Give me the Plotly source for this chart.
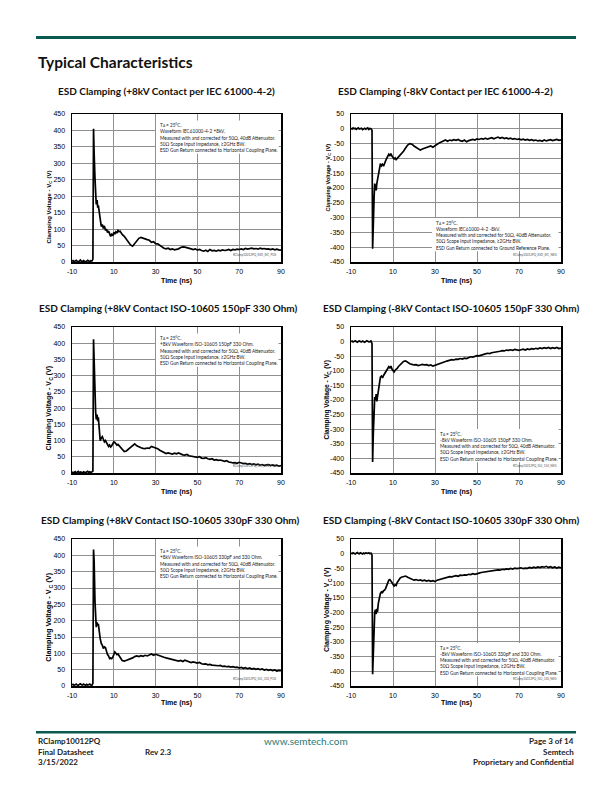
import plotly.graph_objects as go

W, H = 612, 792

# ---------------- data ----------------
T_PRE = [-10, -9.5, -9, -8.5, -8, -7.5, -7, -6.5, -6, -5.5, -5, -4.5, -4, -3.5, -3, -2.5, -2, -1.5, -1, -0.5]
T_EARLY = [0, 0.3, 0.6, 1.0, 1.3, 1.6, 2.0, 2.3, 2.6, 3.0, 3.5, 4.0, 4.5, 5.0, 5.5, 6.0, 6.5, 7.0, 7.5, 8.0,
           8.5, 9.0, 9.5, 10.0, 10.5, 11.0, 11.5, 12.0, 12.5, 13.0, 13.5]
T_TAIL = [14, 15, 16, 17, 18, 19, 20, 21, 22, 23, 24, 25, 26, 27, 28, 29, 30, 31, 32, 33, 34, 35, 36, 37, 38,
          39, 40, 41, 42, 43, 44, 45, 46, 47, 48, 49, 50, 51, 52, 53, 54, 55, 56, 57, 58, 59, 60, 61, 62, 63,
          64, 65, 66, 67, 68, 69, 70, 71, 72, 73, 74, 75, 76, 77, 78, 79, 80, 81, 82, 83, 84, 85, 86, 87, 88,
          89, 90]

# +8kV IEC 61000-4-2
V1_PRE = [2, 4, 1, 3, 5, 2, 0, 3, 6, 2, 1, 4, 3, 0, 2, 5, 3, 1, 4, 3]
V1_EARLY = [8, 405, 330, 255, 205, 175, 188, 165, 172, 150, 118, 108, 114, 102, 110, 96, 100, 90, 94, 82,
            78, 84, 80, 90, 86, 92, 88, 96, 92, 94, 88]
V1_TAIL = [84, 78, 70, 60, 52, 48, 56, 66, 72, 75, 72, 70, 68, 66, 60, 62, 56, 55, 50, 45, 42, 40, 42, 38, 40,
           37, 38, 40, 44, 46, 45, 44, 42, 40, 38, 40, 36, 38, 35, 33, 36, 32, 38, 34, 35, 33, 36, 34, 37, 35,
           36, 38, 35, 38, 37, 39, 38, 40, 38, 41, 39, 40, 42, 40, 41, 39, 42, 40, 41, 39, 40, 38, 40, 37, 39,
           37, 36]

# -8kV IEC 61000-4-2
V2_PRE = [2, -1, 3, 0, 2, -2, 1, 3, -1, 0, 2, -3, 1, 2, -1, 0, 3, -2, 1, 0]
V2_EARLY = [-5, -405, -300, -230, -185, -200, -208, -185, -170, -150, -128, -118, -125, -120, -126, -112, -108,
            -100, -92, -86, -90, -84, -92, -96, -102, -98, -104, -100, -96, -94, -88]
V2_TAIL = [-84, -76, -65, -55, -50, -52, -58, -62, -68, -72, -68, -65, -62, -60, -58, -62, -56, -52, -48, -44,
           -40, -38, -42, -38, -40, -37, -39, -36, -40, -42, -38, -44, -40, -38, -36, -38, -34, -36, -33, -35,
           -32, -35, -33, -30, -34, -31, -28, -32, -29, -33, -31, -34, -32, -35, -33, -36, -34, -37, -35, -38,
           -36, -39, -37, -40, -38, -41, -39, -42, -38, -41, -39, -37, -40, -38, -36, -39, -37]

# +8kV ISO-10605 150pF 330 Ohm
V3_PRE = [3, 1, 2, 4, 0, 2, 5, 1, 3, 2, 0, 4, 2, 1, 3, 5, 2, 4, 1, 3]
V3_EARLY = [6, 412, 330, 240, 190, 165, 180, 160, 172, 140, 100, 108, 112, 104, 96, 100, 92, 88, 82, 86,
            80, 84, 90, 96, 94, 90, 86, 88, 84, 80, 76]
V3_TAIL = [72, 66, 68, 74, 80, 86, 90, 84, 80, 78, 76, 75, 77, 76, 82, 80, 78, 75, 70, 66, 64, 60, 62, 60, 58,
           61, 59, 62, 58, 56, 55, 57, 53, 52, 50, 51, 48, 50, 46, 45, 47, 44, 42, 44, 40, 41, 39, 40, 37, 36,
           38, 34, 33, 31, 32, 30, 33, 31, 29, 30, 27, 29, 26, 28, 25, 27, 24, 26, 23, 25, 26, 23, 25, 22, 24,
           21, 23]

# -8kV ISO-10605 150pF 330 Ohm
V4_PRE = [0, 2, -1, 1, 3, 0, -2, 1, 2, 0, -1, 2, 1, -2, 0, 3, 1, -1, 0, 2]
V4_EARLY = [-6, -412, -320, -230, -190, -200, -180, -205, -190, -160, -130, -122, -118, -124, -116, -110, -104,
            -96, -88, -86, -90, -84, -94, -100, -104, -98, -96, -92, -86, -82, -78]
V4_TAIL = [-74, -68, -66, -72, -76, -78, -80, -79, -82, -80, -78, -80, -79, -82, -80, -84, -81, -78, -76, -73,
           -70, -68, -66, -64, -62, -63, -60, -61, -58, -60, -57, -58, -54, -52, -53, -50, -48, -49, -46, -45,
           -42, -40, -41, -38, -37, -35, -36, -33, -31, -32, -29, -30, -28, -30, -27, -29, -30, -28, -26, -29,
           -25, -27, -24, -26, -23, -25, -22, -24, -21, -23, -20, -24, -21, -23, -20, -24, -22]

# +8kV ISO-10605 330pF 330 Ohm
V5_PRE = [3, 5, 2, 4, 6, 3, 2, 5, 7, 4, 3, 6, 4, 2, 5, 3, 4, 6, 3, 2]
V5_EARLY = [8, 418, 380, 260, 200, 180, 195, 185, 190, 165, 145, 130, 125, 115, 120, 118, 102, 96, 92, 84,
            86, 84, 88, 98, 104, 100, 96, 98, 92, 86, 82]
V5_TAIL = [78, 76, 78, 80, 84, 86, 90, 92, 90, 93, 91, 94, 92, 95, 98, 94, 97, 95, 92, 90, 88, 86, 84, 82, 80,
           78, 77, 76, 78, 75, 79, 76, 74, 72, 74, 71, 70, 72, 68, 67, 68, 65, 66, 64, 63, 64, 62, 63, 60, 61,
           59, 60, 58, 59, 57, 58, 55, 57, 54, 56, 53, 55, 52, 54, 51, 53, 50, 52, 49, 51, 48, 50, 47, 49, 46,
           48, 47]

# -8kV ISO-10605 330pF 330 Ohm
V6_PRE = [2, 0, 3, 1, -1, 2, 4, 1, 0, 3, 1, -1, 2, 0, 3, 2, 1, 3, 0, 2]
V6_EARLY = [-4, -410, -330, -240, -200, -190, -205, -188, -198, -170, -145, -135, -130, -132, -126, -124, -118,
            -108, -96, -90, -88, -92, -98, -104, -110, -106, -108, -98, -92, -86, -82]
V6_TAIL = [-80, -78, -76, -80, -84, -88, -90, -88, -91, -89, -92, -90, -93, -91, -94, -92, -95, -90, -88, -86,
           -84, -82, -80, -78, -79, -76, -75, -77, -73, -74, -72, -73, -70, -71, -68, -70, -67, -66, -64, -63,
           -61, -60, -58, -59, -56, -57, -55, -56, -53, -54, -52, -53, -50, -52, -49, -51, -50, -48, -51, -49,
           -50, -47, -49, -46, -48, -45, -47, -44, -46, -43, -47, -44, -48, -45, -49, -46, -48]

X_TICKS = [-10, 10, 30, 50, 70, 90]
X_TICK_LABELS = ["-10", "10", "30", "50", "70", "90"]
Y_TICKS_POS = [0, 50, 100, 150, 200, 250, 300, 350, 400, 450]
Y_TICK_LABELS_POS = ["0", "50", "100", "150", "200", "250", "300", "350", "400", "450"]
Y_TICKS_NEG = [-450, -400, -350, -300, -250, -200, -150, -100, -50, 0, 50]
Y_TICK_LABELS_NEG = ["-450", "-400", "-350", "-300", "-250", "-200", "-150", "-100", "-50", "0", "50"]

TITLES = [
    "ESD Clamping (+8kV Contact per IEC 61000-4-2)",
    "ESD Clamping (-8kV Contact per IEC 61000-4-2)",
    "ESD Clamping (+8kV Contact ISO-10605 150pF 330 Ohm)",
    "ESD Clamping (-8kV Contact ISO-10605 150pF 330 Ohm)",
    "ESD Clamping (+8kV Contact ISO-10605 330pF 330 Ohm)",
    "ESD Clamping (-8kV Contact ISO-10605 330pF 330 Ohm)",
]
WAVEFORMS = [
    "Waveform IEC61000-4-2 +8kV.",
    "Waveform IEC61000-4-2 -8kV.",
    "+8kV Waveform ISO-10605 150pF 330 Ohm.",
    "-8kV Waveform ISO-10605 150pF 330 Ohm.",
    "+8kV Waveform ISO-10605 330pF and 330 Ohm.",
    "-8kV Waveform ISO-10605 330pF and 330 Ohm.",
]
RETURNS = [
    "ESD Gun Return connected to Horizontal Coupling Plane.",
    "ESD Gun Return connected to Ground Reference Plane.",
    "ESD Gun Return connected to Horizontal Coupling Plane.",
    "ESD Gun Return connected to Horizontal Coupling Plane.",
    "ESD Gun Return connected to Horizontal Coupling Plane.",
    "ESD Gun Return connected to Horizontal Coupling Plane.",
]
IDS = ["RClamp10012PQ_ESD_IEC_POS", "RClamp10012PQ_ESD_IEC_NEG", "RClamp10012PQ_ISO_150_POS",
       "RClamp10012PQ_ISO_150_NEG", "RClamp10012PQ_ISO_330_POS", "RClamp10012PQ_ISO_330_NEG"]
YTITLE_MAIN = "Clamping Voltage - V"
YTITLE_SUB = "C"
YTITLE_UNIT = "(V)"

SERIES = [
    (V1_PRE, V1_EARLY, V1_TAIL),
    (V2_PRE, V2_EARLY, V2_TAIL),
    (V3_PRE, V3_EARLY, V3_TAIL),
    (V4_PRE, V4_EARLY, V4_TAIL),
    (V5_PRE, V5_EARLY, V5_TAIL),
    (V6_PRE, V6_EARLY, V6_TAIL),
]

# ---------------- layout geometry (pixels) ----------------
COLS = [(72, 281), (351, 561)]
ROWS = [(114, 262), (327, 473), (539, 686)]
TITLE_Y = [90.5, 308, 520]
TITLE_X = [[166, 445], [168, 451], [170, 451]]
XTITLE_Y = [281, 492, 703]
YTITLE_X = [49, 327.5]
YTITLE_SIZE = [6.0, 5.6, 7.0, 6.6, 7.3, 7.0]
YTITLE_CENTER = [207, 178, 408, 400, 617, 610]
NOTE_LEFT = [158, 434, 158, 438, 158, 438]
NOTE_FIRST = [125, 222.5, 338, 433.5, 551, 647.5]
NOTE_STEP = 6.3
NOTE_SIZE = 4.7


def px(x):
    return x / W


def py(y):
    return 1 - y / H


TICK_FONT = dict(family="Liberation Sans, Arial", size=7, color="black")
TXT = "Lato, Open Sans, sans-serif"
ARIAL = "Liberation Sans, Arial"
GRID = "#8f8f8f"

fig = go.Figure()
annotations = []
shapes = []


def ann(text, x, y, size, family=TXT, color="#111", xanchor="center", yanchor="middle", angle=0):
    annotations.append(dict(text=text, x=px(x), y=py(y), xref="paper", yref="paper", showarrow=False,
                            xanchor=xanchor, yanchor=yanchor, textangle=angle,
                            font=dict(family=family, size=size, color=color)))


for i in range(6):
    r, c = divmod(i, 2)
    n = i + 1
    pre, early, tail = SERIES[i]
    x = T_PRE + T_EARLY + T_TAIL
    y = pre + early + tail
    fig.add_trace(go.Scatter(x=x, y=y, mode="lines", line=dict(color="black", width=1.7),
                             xaxis=f"x{n}", yaxis=f"y{n}", showlegend=False, hoverinfo="skip"))
    x0, x1 = COLS[c]
    y0, y1 = ROWS[r]
    pos = (c == 0)
    fig.update_layout({
        f"xaxis{n}": dict(domain=[px(x0), px(x1)], anchor=f"y{n}", range=[-10, 90],
                          tickmode="array", tickvals=X_TICKS, ticktext=X_TICK_LABELS,
                          showgrid=True, gridcolor=GRID, gridwidth=1,
                          showline=True, mirror=True, linecolor="black", linewidth=1.5, layer="below traces",
                          zeroline=False, ticks="outside", ticklen=2, tickcolor="rgba(0,0,0,0)",
                          tickfont=TICK_FONT, fixedrange=True),
        f"yaxis{n}": dict(domain=[py(y1), py(y0)], anchor=f"x{n}",
                          range=[0, 450] if pos else [-450, 50],
                          tickmode="array", tickvals=Y_TICKS_POS if pos else Y_TICKS_NEG,
                          ticktext=Y_TICK_LABELS_POS if pos else Y_TICK_LABELS_NEG,
                          showgrid=True, gridcolor=GRID, gridwidth=1, layer="below traces",
                          showline=True, mirror=True, linecolor="black", linewidth=1.5,
                          zeroline=False, ticks="outside", ticklen=4, tickcolor="rgba(0,0,0,0)",
                          tickfont=TICK_FONT, fixedrange=True),
    })
    # chart title
    ann(f"<b>{TITLES[i]}</b>", TITLE_X[r][c], TITLE_Y[r], 10)
    # x axis title
    ann("<b>Time (ns)</b>", (x0 + x1) / 2, XTITLE_Y[r], 7, family=ARIAL, color="black")
    # y axis title, drawn in three rotated pieces (main, subscript, unit)
    s = YTITLE_SIZE[i]
    l_main = 10.0 * s
    s_sub = 0.72 * s
    l_sub = 0.722 * s_sub
    gap = 0.28 * s
    l_unit = 1.333 * s
    total = l_main + l_sub + gap + l_unit
    yb = YTITLE_CENTER[i] + total / 2
    xt = YTITLE_X[c]
    ann(f"<b>{YTITLE_MAIN}</b>", xt, yb - l_main / 2, s, family=ARIAL, color="black", angle=-90)
    ann(f"<b>{YTITLE_SUB}</b>", xt + 0.3 * s, yb - l_main - l_sub / 2, s_sub, family=ARIAL, color="black",
        angle=-90)
    ann(f"<b>{YTITLE_UNIT}</b>", xt, yb - l_main - l_sub - gap - l_unit / 2, s, family=ARIAL, color="black",
        angle=-90)
    # condition note: white box hiding the grid, one annotation per line
    nl = NOTE_LEFT[i]
    nf = NOTE_FIRST[i]
    shapes.append(dict(type="rect", xref="paper", yref="paper", layer="above",
                       x0=px(nl - 2), x1=px(x1 - 2.5), y0=py(nf - 4.5), y1=py(nf + 4 * NOTE_STEP + 3.5),
                       fillcolor="white", line=dict(width=0)))
    ann("T", nl, nf, NOTE_SIZE, color="#222", xanchor="left")
    ann("A", nl + 2.6, nf + 1.3, NOTE_SIZE * 0.7, color="#222", xanchor="left")
    ann("= 25°C.", nl + 5.9, nf, NOTE_SIZE, color="#222", xanchor="left")
    rest = [WAVEFORMS[i], "Measured with and corrected for 50Ω, 40dB Attenuator.",
            "50Ω Scope Input Impedance, ≥2GHz BW.", RETURNS[i]]
    for k, ln in enumerate(rest):
        ann(ln, nl, nf + (k + 1) * NOTE_STEP, NOTE_SIZE, color="#222", xanchor="left")
    # tiny figure id
    ann(IDS[i], x1 - 2, y1 - 3, 3, color="#555", xanchor="right", yanchor="bottom")

# page header / footer text
ann("<b>Typical Characteristics</b>", 36, 62, 15.5, xanchor="left")
ann("<b>RClamp10012PQ</b>", 36, 741, 8, color="#222", xanchor="left")
ann("<b>Final Datasheet</b>", 36, 751.5, 8, color="#222", xanchor="left")
ann("<b>3/15/2022</b>", 36, 762, 8, color="#222", xanchor="left")
ann("<b>Rev 2.3</b>", 143, 751.5, 8, color="#222", xanchor="left")
ann("www.semtech.com", 306, 741, 10, color="#1f7a72")
ann("<b>Page 3 of 14</b>", 576, 741, 8, color="#222", xanchor="right")
ann("<b>Semtech</b>", 576, 751.5, 8, color="#222", xanchor="right")
ann("<b>Proprietary and Confidential</b>", 576, 762, 8, color="#222", xanchor="right")

shapes += [
    dict(type="line", xref="paper", yref="paper", x0=px(36), x1=px(576), y0=py(37.5), y1=py(37.5),
         line=dict(color="#0a5a50", width=3)),
    dict(type="line", xref="paper", yref="paper", x0=px(36), x1=px(576), y0=py(732.3), y1=py(732.3),
         line=dict(color="#0a5a50", width=2.5)),
]

fig.update_layout(template="none", width=W, height=H, margin=dict(l=0, r=0, t=0, b=0, pad=0),
                  autosize=False, paper_bgcolor="white", plot_bgcolor="white",
                  annotations=annotations, shapes=shapes, showlegend=False, hovermode=False)

fig.write_html("out.html", config={"displayModeBar": False, "staticPlot": True},
               post_script="document.documentElement.style.margin='0';document.body.style.margin='0';"
                           "document.body.style.padding='0';document.body.style.overflow='hidden';")
